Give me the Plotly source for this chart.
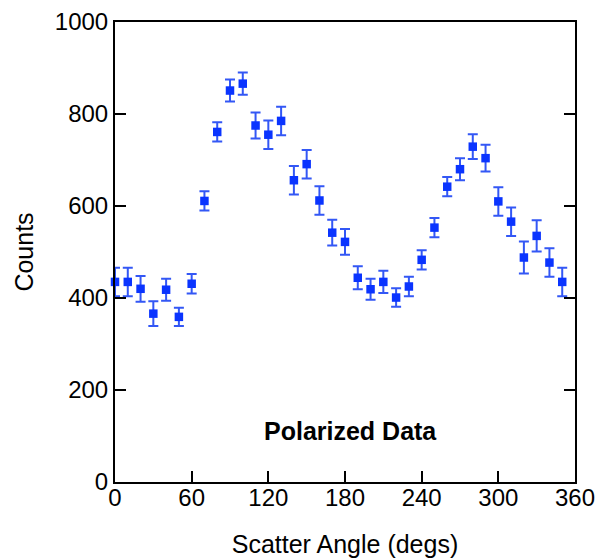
import plotly.graph_objects as go

angles = [0, 10, 20, 30, 40, 50, 60, 70, 80, 90, 100, 110, 120, 130, 140, 150, 160, 170,
          180, 190, 200, 210, 220, 230, 240, 250, 260, 270, 280, 290, 300, 310, 320, 330, 340, 350]
counts = [435, 435, 420, 366, 418, 359, 431, 611, 761, 851, 866, 775, 755, 785, 656, 691, 612, 542,
          522, 444, 419, 435, 401, 425, 483, 553, 642, 680, 729, 704, 610, 566, 488, 535, 477, 435]
errors = [31, 31, 28, 27, 24, 20, 21, 21, 21, 24, 24, 28, 31, 31, 31, 31, 31, 28,
          28, 25, 23, 24, 20, 21, 21, 21, 21, 24, 27, 29, 31, 31, 35, 34, 31, 31]
x_ticks = [0, 60, 120, 180, 240, 300, 360]
y_ticks = [0, 200, 400, 600, 800, 1000]

FONT = "Liberation Sans, Arial, sans-serif"

fig = go.Figure()
fig.add_trace(go.Scatter(
    x=angles, y=counts, mode="markers",
    marker=dict(symbol="square", size=8.5, color="#0a34ff", line=dict(width=0)),
    error_y=dict(type="data", array=errors, visible=True, color="#3357f5", thickness=2, width=5),
    cliponaxis=False, showlegend=False,
))

fig.add_annotation(x=184, y=111, text="<b>Polarized Data</b>", showarrow=False,
                   font=dict(family=FONT, size=25, color="black"))

fig.update_layout(
    width=599, height=558,
    margin=dict(l=115, r=24, t=22, b=76),
    paper_bgcolor="white", plot_bgcolor="white",
    font=dict(family=FONT, color="black"),
)
fig.update_xaxes(
    range=[0, 360], tickvals=x_ticks, ticktext=[str(v) for v in x_ticks],
    showgrid=False, zeroline=False, showline=True, linecolor="black", linewidth=2,
    mirror=True, ticks="inside", ticklen=11, tickwidth=1.5, tickcolor="black",
    tickfont=dict(size=24), automargin=False, ticklabelstandoff=-7,
    title=dict(text="Scatter Angle (degs)", font=dict(size=25), standoff=27),
)
fig.update_yaxes(
    range=[0, 1000], tickvals=y_ticks, ticktext=[str(v) for v in y_ticks],
    showgrid=False, zeroline=False, showline=True, linecolor="black", linewidth=2,
    mirror="ticks", ticks="inside", ticklen=11, tickwidth=1.5, tickcolor="black",
    tickfont=dict(size=24), automargin=False,
    title=dict(text="Counts", font=dict(size=25), standoff=14),
)

fig.write_html("out.html")
